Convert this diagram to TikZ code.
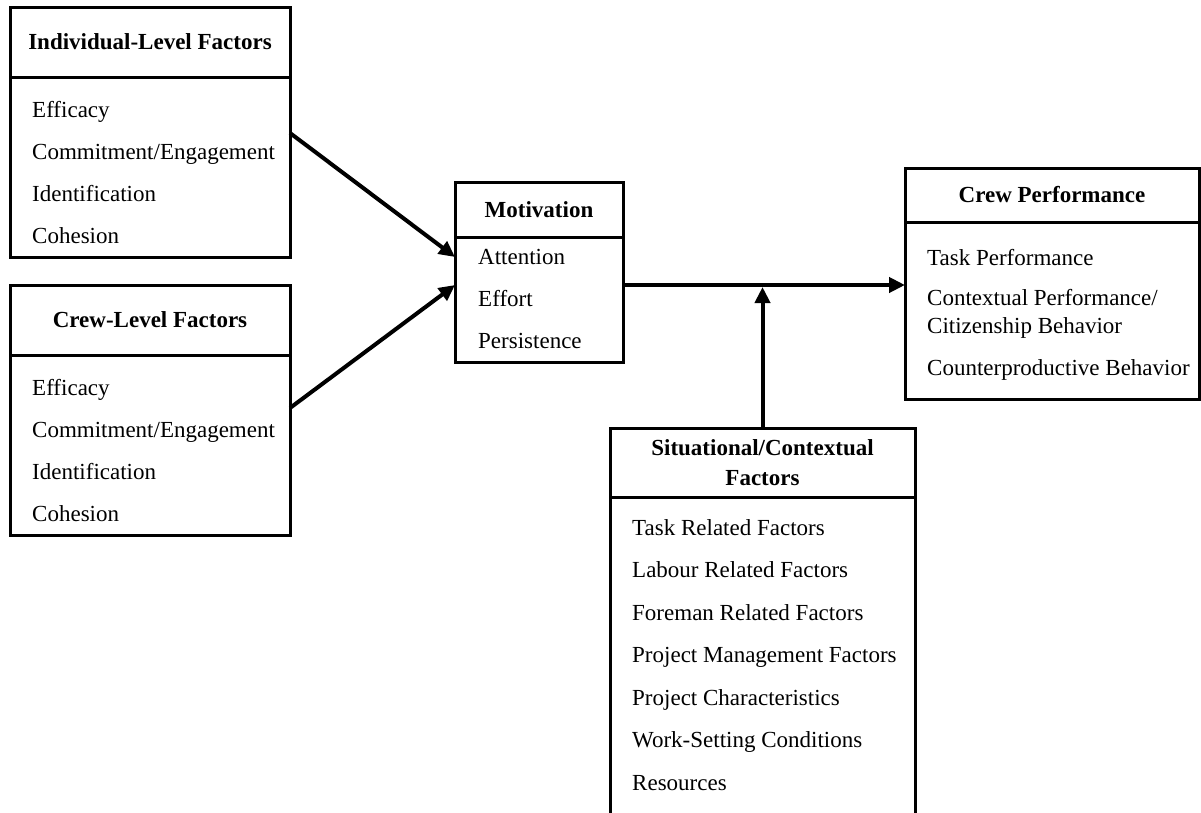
\documentclass[tikz,border=0pt]{standalone}
\usepackage{fontspec}
\setmainfont{Liberation Serif}
\usetikzlibrary{arrows.meta,calc}

\tikzset{
    hdr/.style={draw,line width=3pt,anchor=north west,inner sep=0pt,outer sep=0pt,align=center,font=\fontsize{23}{30}\selectfont\bfseries},
    bdy/.style={draw,line width=3pt,anchor=north west,inner sep=0pt,outer sep=0pt},
    itm/.style={anchor=base west,inner sep=0pt,align=left,font=\fontsize{23}{28}\selectfont},
    flow/.style={line width=4pt,-{Triangle[length=16pt,width=15pt]}}
}

\begin{document}
\begin{tikzpicture}[x=1pt,y=-1pt]
        \useasboundingbox (0,0) rectangle (1201,812);
        \fill[white] (0,0) rectangle (1201,812);
        % individual level
        \node[hdr,minimum width=280pt,minimum height=70pt] (indH) at (10,7) {Individual-Level Factors};
        \node[bdy,minimum width=280pt,minimum height=180pt] (indB) at (indH.south west) {};
        \foreach
        \t [count=\i from 0] in {Efficacy,Commitment/Engagement,Identification,Cohesion} {\node[itm] (ind\i) at ($(indB.north west)+(22,40+42*\i)$) {\t};}
        % crew level
        \node[hdr,minimum width=280pt,minimum height=70pt] (crwH) at (10,285) {Crew-Level Factors};
        \node[bdy,minimum width=280pt,minimum height=180pt] (crwB) at (crwH.south west) {};
        \foreach
        \t [count=\i from 0] in {Efficacy,Commitment/Engagement,Identification,Cohesion} {\node[itm] (crw\i) at ($(crwB.north west)+(22,40+42*\i)$) {\t};}
        % motivation
        \node[hdr,minimum width=168pt,minimum height=55pt] (motH) at (455,182) {Motivation};
        \node[bdy,minimum width=168pt,minimum height=125pt] (motB) at (motH.south west) {};
        \foreach
        \t [count=\i from 0] in {Attention,Effort,Persistence} {\node[itm] (mot\i) at ($(motB.north west)+(23,27+42*\i)$) {\t};}
        % crew performance
        \node[hdr,minimum width=294pt,minimum height=54pt] (perfH) at (905,168) {Crew Performance};
        \node[bdy,minimum width=294pt,minimum height=177pt] (perfB) at (perfH.south west) {};
        \node[itm] (perf0) at ($(perfB.north west)+(22,43)$) {Task Performance};
        \node[itm] (perf1) at ($(perfB.north west)+(22,111)$) {Contextual Performance/\\Citizenship Behavior};
        \node[itm] (perf2) at ($(perfB.north west)+(22,153)$) {Counterproductive Behavior};
        % situational
        \node[hdr,minimum width=305pt,minimum height=69pt] (sitH) at (610,428) {Situational/Contextual\\Factors};
        \node[bdy,minimum width=305pt,minimum height=345pt] (sitB) at (sitH.south west) {};
        \foreach
        \t [count=\i from 0] in {Task Related Factors,Labour Related Factors,Foreman Related Factors,Project Management Factors,Project Characteristics,Work-Setting Conditions,Resources} {\node[itm] (sit\i) at ($(sitB.north west)+(22,38+42.5*\i)$) {\t};}
        % arrows
        \coordinate (mid) at ([yshift=14.5pt]motB.east);
        \draw[flow] ([yshift=34pt]indB.east) -- ([yshift=42.5pt]motB.west);
        \draw[flow] ([yshift=37pt]crwB.east) -- ([yshift=14.5pt]motB.west);
        \draw[flow] (mid) -- ([yshift=25.5pt]perfB.west);
        \draw[flow,shorten >=2pt] (sitH.north) -- (sitH.north |- mid);
    \end{tikzpicture}
\end{document}
